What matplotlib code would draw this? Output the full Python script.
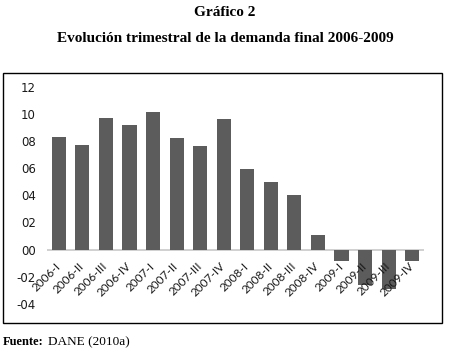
import numpy as np
import matplotlib.pyplot as plt
import matplotlib.transforms as mtransforms
from matplotlib.patches import Rectangle

# datos
trimestres = ['2006-I', '2006-II', '2006-III', '2006-IV',
              '2007-I', '2007-II', '2007-III', '2007-IV',
              '2008-I', '2008-II', '2008-III', '2008-IV',
              '2009-I', '2009-II', '2009-III', '2009-IV']
demanda = [8.3, 7.7, 9.7, 9.2, 10.1, 8.2, 7.6, 9.6,
           5.9, 5.0, 4.0, 1.1, -0.8, -2.6, -2.9, -0.8]
yticks = [12, 10, 8, 6, 4, 2, 0, -2, -4]
ylabels = ['12', '10', '08', '06', '04', '02', '00', '-02', '-04']

fig = plt.figure(figsize=(4.5, 3.52), dpi=100)

# titulos
fig.text(0.5, 1 - 13 / 352, 'Gráfico 2', ha='center', va='center',
         family='Liberation Serif', fontweight='bold', fontsize=11)
fig.text(0.5, 1 - 39 / 352, 'Evolución trimestral de la demanda final 2006-2009',
         ha='center', va='center', family='Liberation Serif',
         fontweight='bold', fontsize=11)

# marco
fig.patches.append(Rectangle((3 / 450, 1 - 323 / 352), 439 / 450, 250 / 352,
                             transform=fig.transFigure, fill=False,
                             edgecolor='black', linewidth=1.0))

ax = fig.add_axes([47 / 450, 1 - 304 / 352, 377 / 450, 217.5 / 352])
x = np.arange(len(trimestres))
ax.bar(x, demanda, width=0.6, color='#5c5c5c', zorder=2)
ax.axhline(0, color='#c8c8c8', linewidth=1.2, zorder=1)

ax.set_xlim(-0.5, len(trimestres) - 0.5)
ax.set_ylim(-4, 12)
ax.set_yticks(yticks)
ax.set_yticklabels(ylabels, family='DejaVu Sans', fontsize=8.5, color='#1a1a1a')
ax.tick_params(axis='y', length=0, pad=8)
ax.set_xticks([])
for s in ax.spines.values():
    s.set_visible(False)

# etiquetas del eje x junto a la linea del cero
offset = mtransforms.ScaledTranslation(-4 / 100, -11 / 100, fig.dpi_scale_trans)
for i, t in enumerate(trimestres):
    ax.text(i, 0, t, transform=ax.transData + offset, rotation=45,
            rotation_mode='anchor', ha='right', va='top',
            family='Lato', fontsize=8.5, color='#1a1a1a')

fig.text(3 / 450, 1 - 342 / 352, 'Fuente:', ha='left', va='center',
         family='Liberation Serif', fontweight='bold', fontsize=9)
fig.text(48 / 450, 1 - 342 / 352, 'DANE (2010a)', ha='left', va='center',
         family='Liberation Serif', fontsize=9.5)

plt.savefig('out.png', dpi=100)
